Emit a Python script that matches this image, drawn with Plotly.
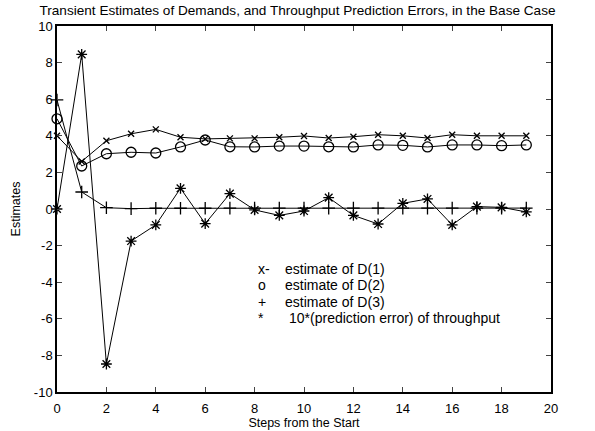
import plotly.graph_objects as go

steps = list(range(20))
d1 = [4.0, 2.6, 3.73, 4.11, 4.35, 3.92, 3.83, 3.86, 3.86, 3.92, 3.99, 3.88, 3.95, 4.06, 4.0, 3.88, 4.06, 4.0, 4.0, 4.0]
d2 = [4.93, 2.35, 3.02, 3.1, 3.06, 3.39, 3.77, 3.4, 3.39, 3.44, 3.44, 3.4, 3.39, 3.5, 3.48, 3.39, 3.5, 3.5, 3.46, 3.5]
d3 = [5.96, 0.93, 0.07, 0.02, 0.04, 0.04, 0.04, 0.05, 0.05, 0.05, 0.05, 0.05, 0.05, 0.05, 0.05, 0.05, 0.05, 0.05, 0.05, 0.05]
err = [0.0, 8.45, -8.47, -1.75, -0.87, 1.13, -0.8, 0.84, -0.05, -0.35, -0.11, 0.62, -0.35, -0.82, 0.31, 0.55, -0.87, 0.13, 0.09, -0.16]

legend_marks = ["x-", "o", "+", "*"]
legend_texts = ["estimate of D(1)", "estimate of D(2)", "estimate of D(3)", "10*(prediction error) of throughput"]

x_ticks = list(range(0, 21, 2))
y_ticks = list(range(-10, 11, 2))
y_ticktext = [str(v) for v in y_ticks]

W, H = 595, 431
ML, MR, MT, MB = 57, 44, 26, 39

fig = go.Figure()
series = [
    (d1, "x-thin-open", 6),
    (d2, "circle-open", 10),
    (d3, "cross-thin-open", 9),
    (err, "asterisk-open", 9),
]
for ys, sym, sz in series:
    fig.add_trace(go.Scatter(
        x=steps, y=ys, mode="lines+markers",
        line=dict(color="black", width=1),
        marker=dict(symbol=sym, size=sz, color="black", line=dict(color="black", width=1.3)),
        showlegend=False, cliponaxis=False,
    ))

font = "Liberation Sans, Arial, sans-serif"
fig.update_layout(
    width=W, height=H,
    margin=dict(l=ML, r=MR, t=MT, b=MB),
    paper_bgcolor="white", plot_bgcolor="white",
    font=dict(family=font, color="black", size=12),
    title=dict(text="Transient Estimates of Demands, and Throughput Prediction Errors, in the Base Case",
               x=0.5, xref="container", xanchor="center",
               y=1 - 10 / H, yref="container", yanchor="middle",
               font=dict(size=13.6, family=font, color="black")),
    xaxis=dict(range=[0, 20], tickvals=x_ticks, ticks="inside", ticklen=5, tickwidth=1,
               showline=True, linecolor="black", linewidth=1.5, mirror="ticks",
               showgrid=False, zeroline=False, tickfont=dict(size=13), ticklabelstandoff=4,
               automargin=False,
               title=dict(text="Steps from the Start", font=dict(size=12.5), standoff=0)),
    yaxis=dict(range=[-10, 10], tickvals=y_ticks, ticktext=y_ticktext, ticks="inside", ticklen=5, tickwidth=1,
               showline=True, linecolor="black", linewidth=1.5, mirror="ticks",
               showgrid=False, zeroline=False, tickfont=dict(size=13), automargin=False,
               title=dict(text="Estimates", font=dict(size=12.5), standoff=10)),
)

pw = W - ML - MR
ph = H - MT - MB
row_y = [268.5, 285, 301.5, 318]
mark_x = 256
text_x = [283, 283, 283, 287]
for i in range(4):
    py = 1 - (row_y[i] - MT) / ph
    fig.add_annotation(x=(mark_x - ML) / pw, y=py, xref="paper", yref="paper",
                       text=legend_marks[i], showarrow=False, xanchor="left", yanchor="middle",
                       font=dict(size=14, family=font, color="black"))
    fig.add_annotation(x=(text_x[i] - ML) / pw, y=py, xref="paper", yref="paper",
                       text=legend_texts[i], showarrow=False, xanchor="left", yanchor="middle",
                       font=dict(size=14, family=font, color="black"))

fig.write_html("out.html")
